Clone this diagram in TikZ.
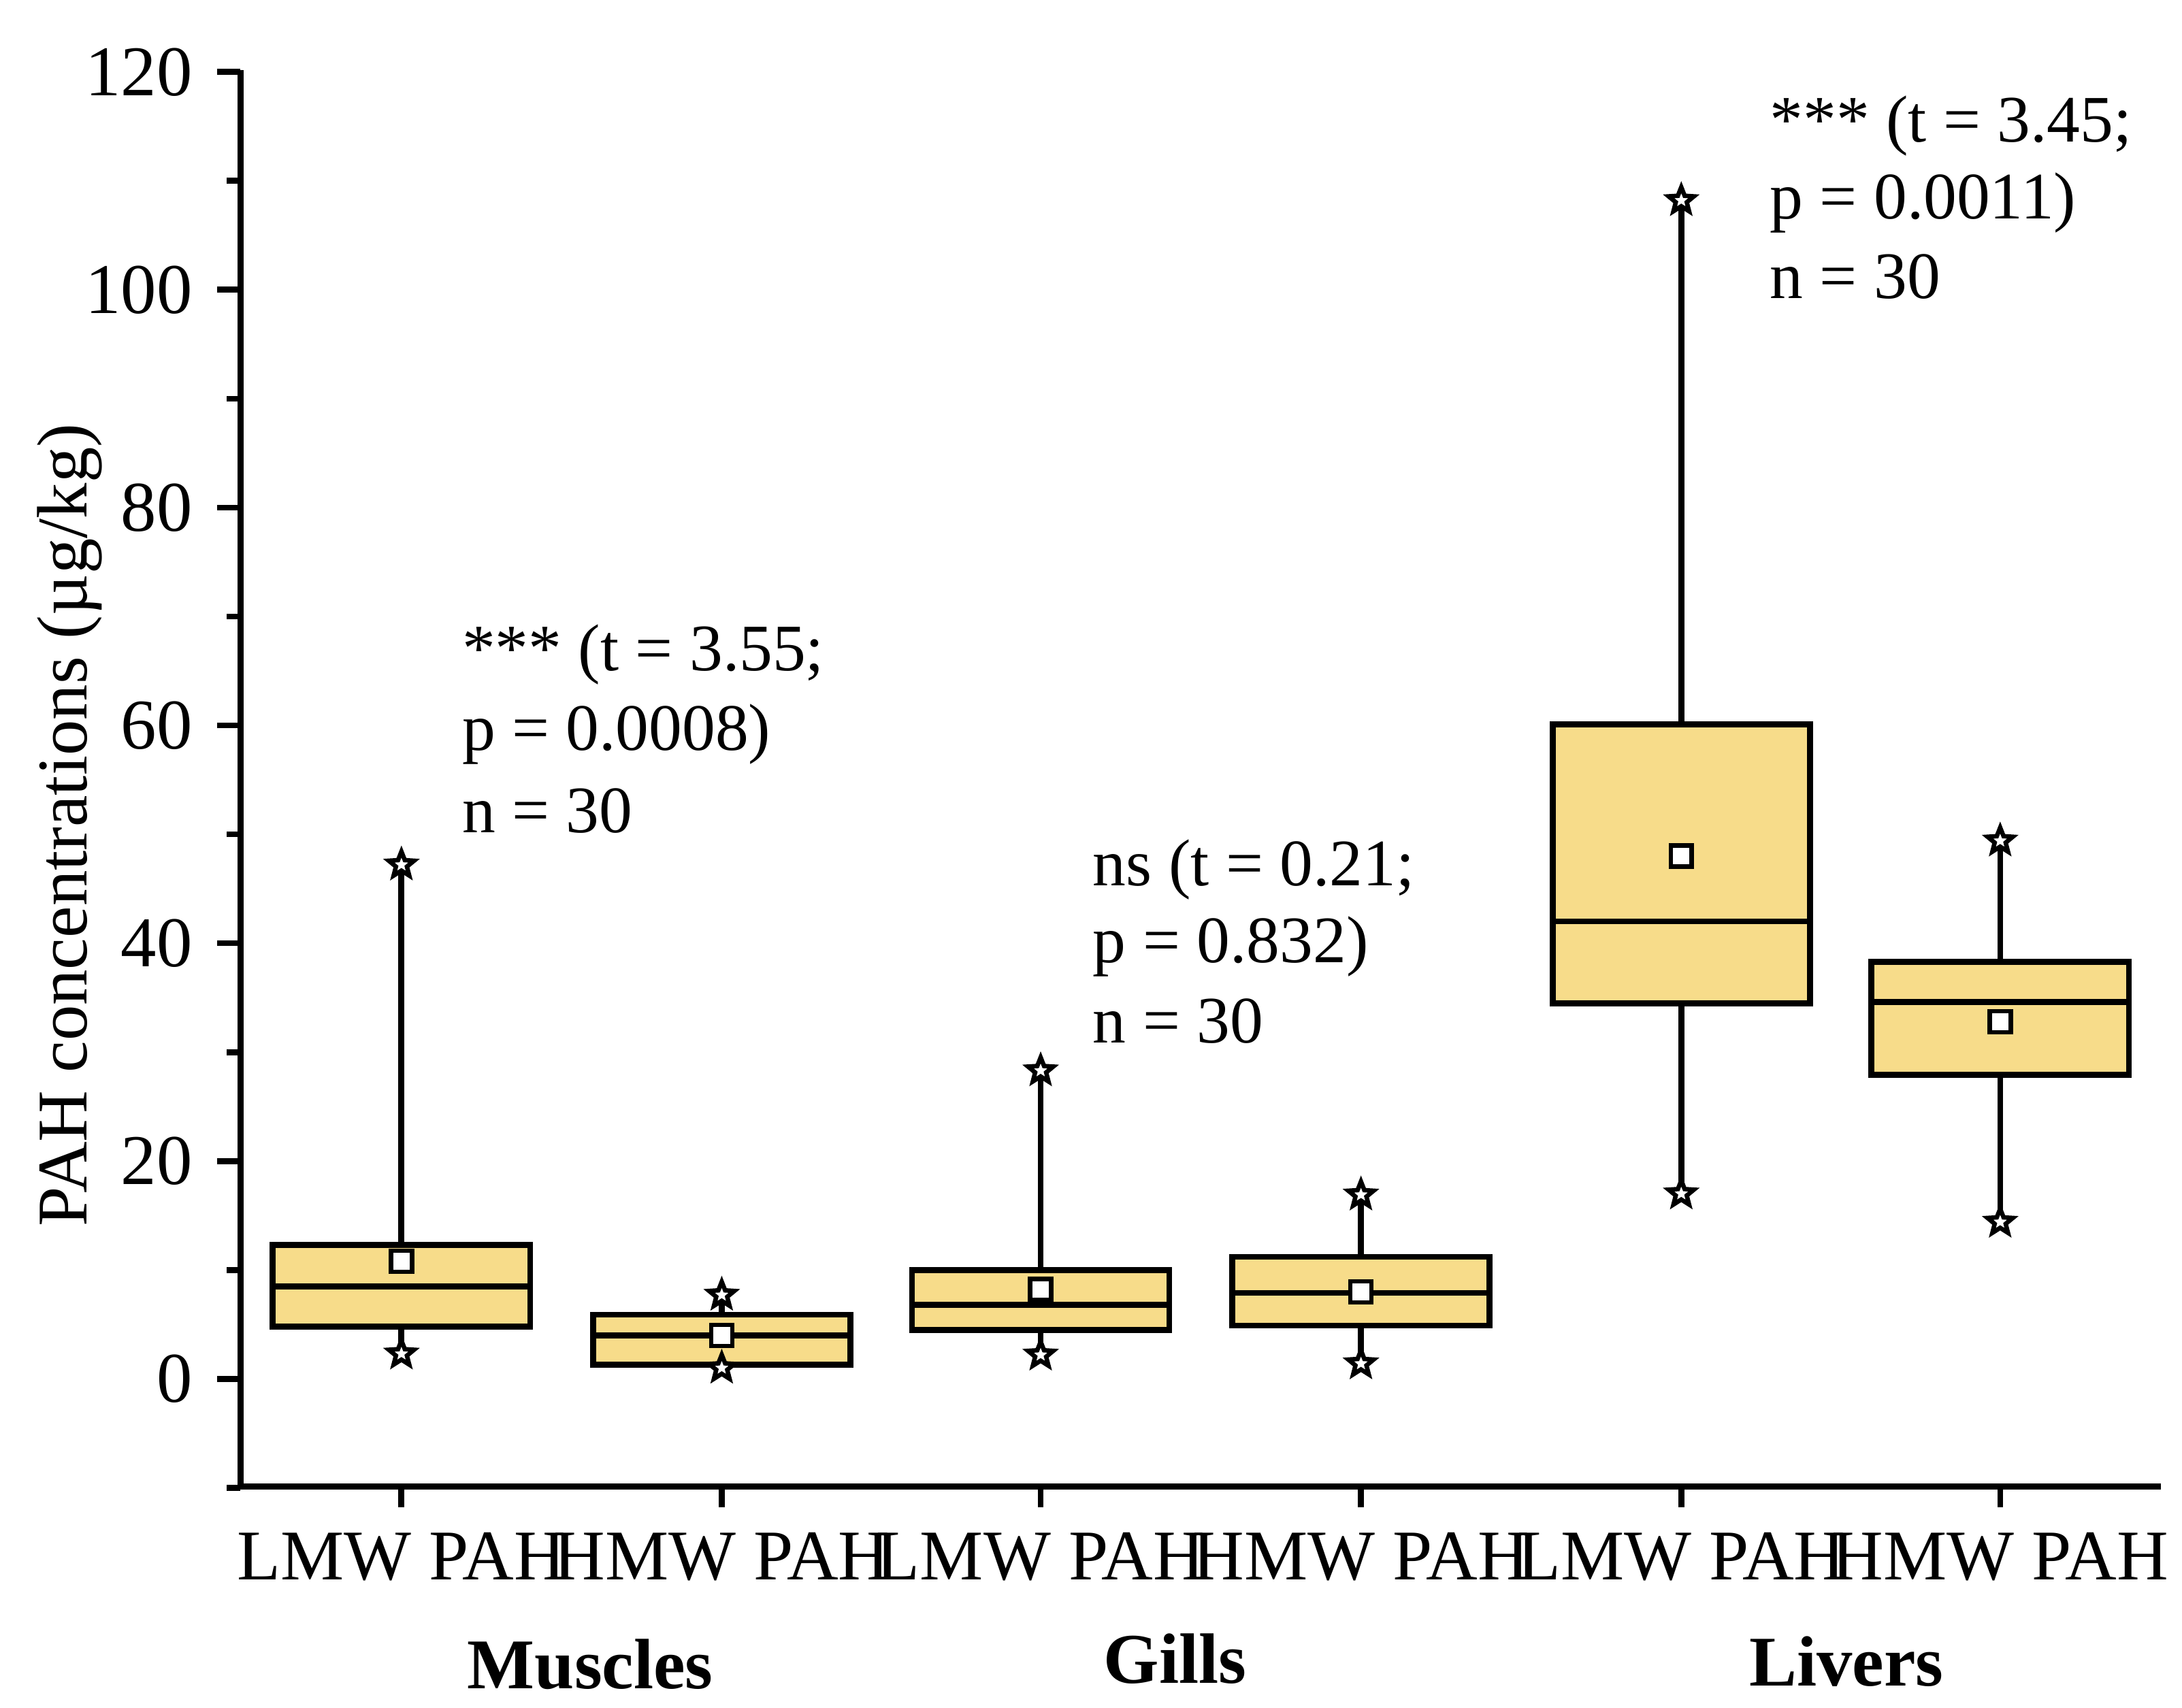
\documentclass[tikz,border=0pt]{standalone}
\usepackage{fontspec}
\setmainfont{Liberation Serif}
\usetikzlibrary{shapes.geometric}
\definecolor{boxfill}{HTML}{F7DC8A}
\tikzset{
 ln/.style={line width=1.2pt},
 st/.style={star,star points=5,star point ratio=2.3,draw,ln,line width=0.9pt,fill=white,minimum size=0.19cm,inner sep=0pt},
 mn/.style={rectangle,draw,line width=0.9pt,fill=white,minimum size=0.15cm,inner sep=0pt},
 lab/.style={font=\fontsize{14.5}{16}\selectfont},
 ann/.style={font=\fontsize{13.5}{15}\selectfont,anchor=west}
}
\begin{document}
\begin{tikzpicture}[x=0.01cm,y=-0.01cm]
\useasboundingbox (0,0) rectangle (1560,1221);
\draw[ln] (172,50) -- (172,1063) -- (1545,1063);
\begin{scope}[shift={(0,986)},y=0.07783cm]
 \foreach \v in {-10,0,...,120} {\draw[ln] (172,\v) -- (162,\v);}
 \foreach \v in {0,20,...,120} {\draw[ln] (172,\v) -- (155,\v); \node[lab,anchor=east] at (150,\v) {\v};}
 \foreach \x/\qa/\qb/\md/\mu/\wa/\wb in {287/4.8/12.3/8.5/10.8/2.3/47.2, 516/1.3/5.9/4.0/4.0/1.0/7.7, 744/4.5/10.0/6.8/8.2/2.2/28.3, 973/4.9/11.2/7.9/8.0/1.4/16.9, 1202/34.5/60.1/42.0/48.0/17.0/108.2, 1430/27.9/38.3/34.6/32.8/14.4/49.4} {
  \draw[ln] (\x,\wa) -- (\x,\wb);
  \draw[ln,fill=boxfill] (\x-92,\qa) rectangle (\x+92,\qb);
  \draw[ln] (\x-92,\md) -- (\x+92,\md);
  \node[mn] at (\x,\mu) {};
  \node[st] at (\x,\wa) {};
  \node[st] at (\x,\wb) {};
 }
\end{scope}
\foreach \x/\t in {287/LMW,516/HMW,744/LMW,973/HMW,1202/LMW,1430/HMW} {
 \draw[ln] (\x,1063) -- (\x,1078);
 \node[lab] at (\x,1113) {\t\ PAH};
}
\node[lab,font=\fontsize{14.5}{16}\selectfont\bfseries] at (422,1190) {Muscles};
\node[lab,font=\fontsize{14.5}{16}\selectfont\bfseries] at (840,1186) {Gills};
\node[lab,font=\fontsize{14.5}{16}\selectfont\bfseries] at (1320,1188) {Livers};
\node[lab,rotate=90] at (50,590) {PAH concentrations (µg/kg)};
\node[ann] at (318,468) {*** (t = 3.55;};
\node[ann] at (318,525) {p = 0.0008)};
\node[ann] at (318,580) {n = 30};
\node[ann] at (769,622) {ns (t = 0.21;};
\node[ann] at (769,677) {p = 0.832)};
\node[ann] at (769,730) {n = 30};
\node[ann] at (1253,90) {*** (t = 3.45;};
\node[ann] at (1253,145) {p = 0.0011)};
\node[ann] at (1253,198) {n = 30};
\end{tikzpicture}
\end{document}
